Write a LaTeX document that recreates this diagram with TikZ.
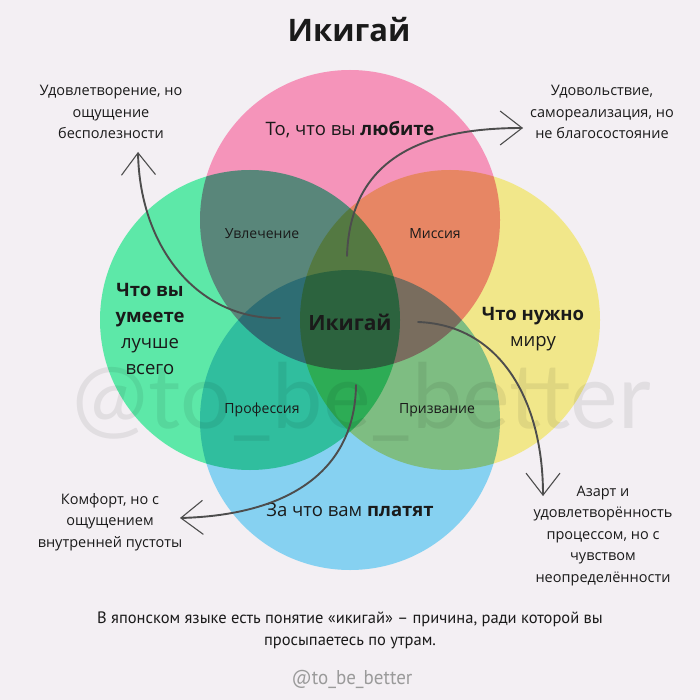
\documentclass[tikz,border=0pt]{standalone}
\usepackage{fontspec}
\setmainfont{Open Sans}
\newfontfamily\markfont{Lato}
\newfontfamily\footfont{PT Sans}
\usetikzlibrary{arrows.meta}
\definecolor{cBg}{HTML}{F3EFF3}
\definecolor{cLove}{HTML}{F594BA}
\definecolor{cGood}{HTML}{5DE8A8}
\definecolor{cNeed}{HTML}{F1E78A}
\definecolor{cPaid}{HTML}{86D1F1}
\definecolor{cInk}{HTML}{1A1A1A}
\definecolor{cPen}{HTML}{4D4D4D}
\definecolor{cHandle}{HTML}{9A9A9A}
\tikzset{
  ring/.style={radius=150},
  note/.style={align=center, inner sep=2pt, text=cInk,
               font=\fontsize{14.5}{21.5}\selectfont},
  zone/.style={align=center, inner sep=2pt, text=cInk,
               font=\fontsize{14}{16}\selectfont},
  big/.style={align=center, inner sep=2pt, text=cInk,
              font=\fontsize{18.5}{26}\selectfont},
  pen/.style={-{Straight Barb[length=22pt,width=34pt,line width=1.1pt]},
              line width=1.9pt, cPen, line cap=round},
}

\begin{document}
\begin{tikzpicture}[x=1pt, y=-1pt]
  \fill[cBg] (0,0) rectangle (700,700);
  \useasboundingbox (0,0) rectangle (700,700);
  % four circles, multiplied where they overlap
  \begin{scope}[blend group=multiply]
    \fill[cLove] (350,220) circle[ring];
    \fill[cGood] (250,320) circle[ring];
    \fill[cNeed] (450,320) circle[ring];
    \fill[cPaid] (350,420) circle[ring];
  \end{scope}
  \node[text=black, opacity=0.07, inner sep=0,
        font=\markfont\fontsize{90}{90}\selectfont] (mark) at (362,402) {@to\_be\_better};

  \node[font=\fontsize{31}{33}\selectfont\bfseries, text=cInk] (title) at (349,30) {Икигай};

  % circle labels
  \node[big] (love) at (350,130) {То, что вы \textbf{любите}};
  \node[big] (good) at (150,329) {\textbf{Что вы}\\ \textbf{умеете}\\ лучше\\ всего};
  \node[big] (need) at (533,329) {\textbf{Что нужно}\\ миру};
  \node[big] (paid) at (350,510) {За что вам \textbf{платят}};
  \node[font=\fontsize{21}{23}\selectfont\bfseries, text=cInk] (core) at (350,322) {Икигай};

  % overlaps
  \node[zone] (passion)  at (262,234) {Увлечение};
  \node[zone] (mission)  at (435,234) {Миссия};
  \node[zone] (prof)     at (262,410) {Профессия};
  \node[zone] (vocation) at (437,410) {Призвание};

  % side notes
  \node[note] (noteTL) at (111,112) {Удовлетворение, но\\ ощущение\\ бесполезности};
  \node[note] (noteTR) at (602,112) {Удовольствие,\\ самореализация, но\\ не благосостояние};
  \node[note] (noteBL) at (110,522) {Комфорт, но с\\ ощущением\\ внутренней пустоты};
  \node[note] (noteBR) at (603,536)
    {Азарт и\\ удовлетворённость\\ процессом, но с\\ чувством\\ неопределённости};

  % hand-drawn arrows
  \coordinate (s1) at (280,318);  \coordinate (t1) at (138,152);
  \coordinate (s2) at (347,256);  \coordinate (t2) at (523,128);
  \coordinate (s3) at (418,322);  \coordinate (t3) at (543,496);
  \coordinate (s4) at (356,385);  \coordinate (t4) at (180,518);
  \draw[pen] (s1) .. controls (200,320) and (140,250) .. (t1);
  \draw[pen] (s2) .. controls (350,160) and (420,128) .. (t2);
  \draw[pen] (s3) .. controls (500,325) and (543,400) .. (t3);
  \draw[pen] (s4) .. controls (355,470) and (290,515) .. (t4);

  % footer
  \node[text=cInk, align=center, font=\footfont\fontsize{16.5}{22}\selectfont] (caption) at (350,630)
    {В японском языке есть понятие «икигай» – причина, ради которой вы\\
     просыпаетесь по утрам.};
  \node[text=cHandle, font=\footfont\fontsize{20}{22}\selectfont] (handle) at (352,679)
    {\scalebox{0.95}[1]{@to\_be\_better}};
\end{tikzpicture}
\end{document}
